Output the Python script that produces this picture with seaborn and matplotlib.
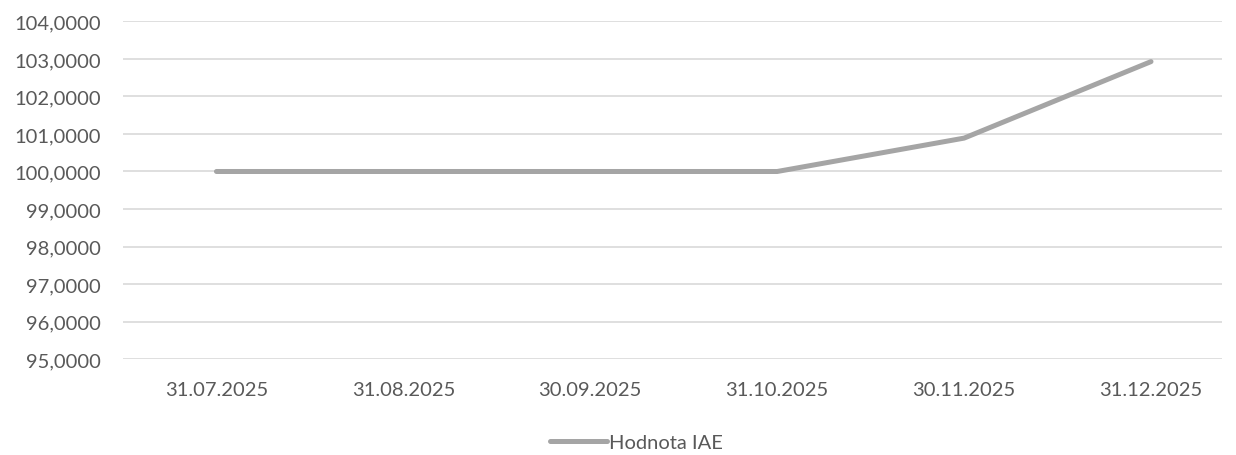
import matplotlib
matplotlib.use("Agg")
import matplotlib.pyplot as plt
from matplotlib.ticker import FuncFormatter, MultipleLocator
import pandas as pd
import seaborn as sns

dates = ["31.07.2025", "31.08.2025", "30.09.2025", "31.10.2025", "30.11.2025", "31.12.2025"]
hodnota = [100.0, 100.0, 100.0, 100.0, 100.89, 102.93]
series_name = "Hodnota IAE"

df = pd.DataFrame({"datum": dates, "hodnota": hodnota, "serie": series_name})

sns.set_style("white")
plt.rcParams["font.family"] = ["Lato", "DejaVu Sans"]

text_col = "#595959"
fig = plt.figure(figsize=(12.36, 4.56), dpi=100)
ax = fig.add_axes([0.0995, 0.2105, 0.8892, 0.7402])

sns.lineplot(data=df, x="datum", y="hodnota", hue="serie", palette=["#a5a5a5"],
             sort=False, linewidth=3.6, ax=ax, legend=False,
             solid_capstyle="round", zorder=3)

ax.set_ylim(95, 104)
ax.set_xlim(-0.5, 5.38)
ax.yaxis.set_major_locator(MultipleLocator(1))
ax.yaxis.set_major_formatter(FuncFormatter(lambda v, p: f"{v:.4f}".replace(".", ",")))
ax.grid(axis="y", color="#d9d9d9", linewidth=1.2)
ax.grid(axis="x", visible=False)
for s in ax.spines.values():
    s.set_visible(False)
ax.tick_params(axis="both", length=0, labelsize=14.5, colors=text_col)
ax.tick_params(axis="y", pad=16)
ax.tick_params(axis="x", pad=16)
ax.set_xlabel("")
ax.set_ylabel("")

# legend
h = plt.Line2D([], [], color="#a5a5a5", linewidth=3.6, solid_capstyle="round")
fig.legend([h], [series_name], loc="lower center", bbox_to_anchor=(0.515, -0.03),
           frameon=False, fontsize=14.5, labelcolor=text_col, handlelength=2.8,
           handletextpad=0.1)

fig.savefig("out.png", dpi=100)
